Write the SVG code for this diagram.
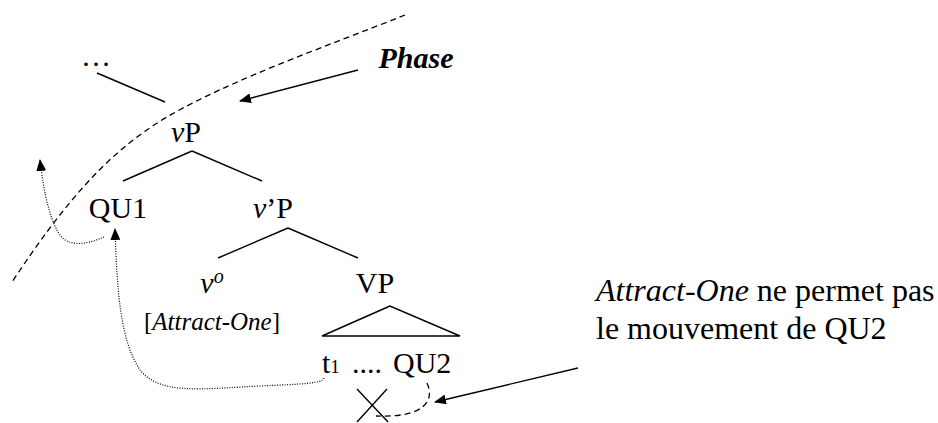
<svg xmlns="http://www.w3.org/2000/svg" width="938" height="423" viewBox="0 0 938 423">
<defs>
<marker id="ah" viewBox="0 0 12 10" refX="11" refY="5" markerWidth="12" markerHeight="10" markerUnits="userSpaceOnUse" orient="auto">
<path d="M0,0 L12,5 L0,10 Z" fill="#000"/>
</marker>
<style>
text{font-family:'Liberation Serif','Times New Roman',serif;fill:#000}
.n{font-size:30px}
.it{font-style:italic}
.ln{stroke:#000;stroke-width:1.4;fill:none}
.dash{stroke:#000;stroke-width:1.3;fill:none;stroke-dasharray:6 4}
.dot{stroke:#000;stroke-width:1.2;fill:none;stroke-dasharray:1 1.5}
</style>
</defs>
<rect width="938" height="423" fill="#fff"/>
<g id="phase-boundary">
<path class="dash" d="M405,15 C330,45 230,80 167,117 S60,210 12,282"/>
</g>
<g id="node-dots"><text class="n" x="96" y="66" text-anchor="middle">…</text></g>
<g id="node-phase"><text class="n it" font-size="31" font-weight="bold" x="416" y="68" text-anchor="middle">Phase</text></g>
<g id="node-vP"><text class="n" x="186" y="142" text-anchor="middle"><tspan class="it">v</tspan>P</text></g>
<g id="node-QU1"><text class="n" x="118" y="218" text-anchor="middle">QU1</text></g>
<g id="node-vbarP"><text class="n" x="273" y="218" text-anchor="middle"><tspan class="it">v</tspan>’P</text></g>
<g id="node-v0"><text class="n" x="212" y="293" text-anchor="middle"><tspan class="it">v</tspan><tspan class="it" font-size="20" dy="-10">o</tspan></text></g>
<g id="node-feature"><text font-size="25" x="212" y="330" text-anchor="middle">[<tspan class="it">Attract-One</tspan>]</text></g>
<g id="node-VP"><text class="n" x="375" y="293" text-anchor="middle">VP</text></g>
<g id="node-t1"><text class="n" x="322" y="373">t<tspan font-size="19">1</tspan></text></g>
<g id="node-ellipsis"><text class="n" x="352" y="373">....</text></g>
<g id="node-QU2"><text class="n" x="393" y="373">QU2</text></g>
<g id="node-note"><text font-size="32" x="596" y="301"><tspan class="it">Attract-One</tspan> ne permet pas</text><text font-size="32" x="596" y="339">le mouvement de QU2</text></g>
<g id="node-X"><path class="ln" d="M357,389 L388,422 M387,389 L357,422"/></g>
<g id="connectors">
<path class="ln" d="M97,73 L165,102"/>
<path class="ln" d="M192,151 L123,181 M192,151 L262,181"/>
<path class="ln" d="M288,228 L218,258 M288,228 L358,258"/>
<path class="ln" d="M390,306 L322,336 L460,336 Z"/>
<path class="ln" d="M358,70 L240,101" marker-end="url(#ah)"/>
<path class="ln" d="M578,368 L435,402" marker-end="url(#ah)"/>
<path class="dot" d="M324,378 C322,384 300,384 260,386 C200,389 160,395 140,370 C120,340 117,290 115,229" marker-end="url(#ah)"/>
<path class="dot" d="M104,237 C90,243 68,250 58,232 C50,218 44,195 40,160" marker-end="url(#ah)"/>
<path class="dash" d="M427,383 C435,400 425,418 376,416"/>
</g>
</svg>
